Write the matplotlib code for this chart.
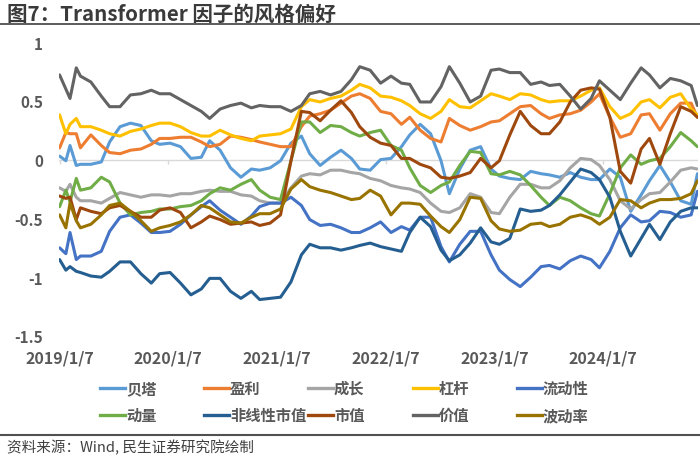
import matplotlib
matplotlib.use("Agg")
import matplotlib.pyplot as plt
from matplotlib.lines import Line2D
import pandas as pd

plt.rcParams["font.family"] = ["Noto Sans CJK SC", "DejaVu Sans"]
plt.rcParams["axes.unicode_minus"] = False

# weekly samples, weeks since 2019/1/7
weeks = [0, 3, 5, 8, 10,
         15, 20, 24, 29, 34, 39, 44, 48, 53, 58,
         63, 68, 72, 77, 82, 87, 92, 96, 101, 106,
         111, 116, 120, 125, 130, 135, 140, 144, 149, 154,
         159, 164, 168, 173, 178, 183, 187, 192, 197, 202,
         207, 211, 216, 221, 226, 231, 235, 240, 245, 250,
         255, 259, 264, 269, 274, 279, 283, 288, 293, 298,
         303, 306]

beta = [0.03, -0.01, 0.12, -0.05, -0.04,
        -0.04, -0.02, 0.15, 0.28, 0.31, 0.29, 0.16, 0.13, 0.14, 0.11,
        0.01, 0.02, 0.16, 0.08, -0.07, -0.15, -0.08, -0.09, -0.07, -0.01,
        0.14, 0.20, 0.05, -0.05, 0.02, 0.08, 0.01, -0.08, -0.09, 0.00,
        0.01, 0.11, 0.21, 0.30, 0.22, -0.01, -0.29, -0.08, 0.08, 0.11,
        -0.08, -0.14, -0.16, -0.17, -0.10, -0.12, -0.13, -0.15, -0.11, -0.15,
        -0.17, -0.17, -0.08, -0.15, -0.44, -0.30, -0.18, -0.05, -0.19, -0.35,
        -0.38, -0.12]
yingli = [0.10, 0.23, 0.22, 0.22, 0.10,
          0.21, 0.12, 0.06, 0.05, 0.08, 0.09, 0.13, 0.18, 0.18, 0.19,
          0.19, 0.15, 0.11, 0.13, 0.20, 0.19, 0.17, 0.15, 0.13, 0.11,
          0.11, 0.28, 0.37, 0.39, 0.42, 0.48, 0.54, 0.56, 0.52, 0.41,
          0.39, 0.30, 0.36, 0.25, 0.18, 0.15, 0.35, 0.29, 0.25, 0.28,
          0.32, 0.33, 0.39, 0.45, 0.46, 0.39, 0.35, 0.38, 0.39, 0.42,
          0.49, 0.56, 0.36, 0.19, 0.22, 0.38, 0.39, 0.25, 0.39, 0.48,
          0.48, 0.36]
chengzhang = [-0.24, -0.27, -0.21, -0.32, -0.35,
              -0.35, -0.37, -0.33, -0.28, -0.30, -0.32, -0.30, -0.30, -0.31, -0.29,
              -0.29, -0.27, -0.26, -0.27, -0.27, -0.30, -0.31, -0.35, -0.37, -0.37,
              -0.24, -0.14, -0.12, -0.13, -0.09, -0.09, -0.11, -0.12, -0.16, -0.18,
              -0.22, -0.24, -0.25, -0.28, -0.37, -0.44, -0.45, -0.41, -0.29, -0.32,
              -0.45, -0.46, -0.32, -0.21, -0.21, -0.24, -0.24, -0.18, -0.07, 0.01,
              0.00, -0.05, -0.17, -0.35, -0.42, -0.34, -0.29, -0.28, -0.19, -0.09,
              -0.07, -0.08]
ganggan = [0.38, 0.22, 0.30, 0.35, 0.28,
           0.28, 0.25, 0.22, 0.20, 0.24, 0.26, 0.29, 0.31, 0.31, 0.28,
           0.23, 0.20, 0.20, 0.25, 0.21, 0.18, 0.16, 0.20, 0.21, 0.22,
           0.26, 0.45, 0.51, 0.49, 0.52, 0.54, 0.59, 0.64, 0.61, 0.54,
           0.53, 0.50, 0.46, 0.39, 0.35, 0.41, 0.51, 0.45, 0.44, 0.50,
           0.56, 0.54, 0.51, 0.56, 0.55, 0.51, 0.49, 0.50, 0.50, 0.54,
           0.59, 0.61, 0.45, 0.35, 0.39, 0.49, 0.51, 0.44, 0.53, 0.56,
           0.43, 0.38]
liudong = [-0.75, -0.80, -0.62, -0.85, -0.82,
           -0.82, -0.78, -0.61, -0.49, -0.47, -0.54, -0.62, -0.62, -0.61, -0.55,
           -0.47, -0.40, -0.35, -0.43, -0.49, -0.55, -0.48, -0.40, -0.37, -0.37,
           -0.32, -0.39, -0.51, -0.56, -0.55, -0.58, -0.62, -0.62, -0.58, -0.53,
           -0.62, -0.57, -0.60, -0.49, -0.49, -0.74, -0.87, -0.72, -0.61, -0.61,
           -0.81, -0.94, -1.02, -1.08, -1.00, -0.91, -0.90, -0.93, -0.86, -0.82,
           -0.85, -0.92, -0.78, -0.58, -0.47, -0.53, -0.52, -0.44, -0.45, -0.49,
           -0.47, -0.27]
dongliang = [-0.40, -0.26, -0.36, -0.16, -0.26,
             -0.24, -0.15, -0.19, -0.37, -0.47, -0.45, -0.44, -0.42, -0.42, -0.40,
             -0.39, -0.35, -0.29, -0.24, -0.26, -0.21, -0.17, -0.26, -0.32, -0.34,
             -0.01, 0.32, 0.32, 0.23, 0.29, 0.28, 0.23, 0.20, 0.23, 0.25,
             0.12, 0.08, -0.07, -0.22, -0.28, -0.22, -0.19, -0.05, 0.07, 0.06,
             -0.12, -0.13, -0.10, -0.13, -0.22, -0.32, -0.39, -0.32, -0.35, -0.41,
             -0.46, -0.48, -0.29, -0.07, 0.04, -0.04, -0.01, 0.01, 0.11, 0.23,
             0.16, 0.11]
feixian = [-0.85, -0.94, -0.91, -0.95, -0.96,
           -0.99, -1.00, -0.95, -0.87, -0.87, -0.97, -1.05, -0.97, -0.96, -1.05,
           -1.15, -1.10, -1.01, -1.01, -1.12, -1.18, -1.12, -1.19, -1.18, -1.17,
           -1.04, -0.81, -0.72, -0.75, -0.75, -0.77, -0.75, -0.73, -0.71, -0.74,
           -0.76, -0.78, -0.62, -0.49, -0.57, -0.77, -0.86, -0.81, -0.71, -0.58,
           -0.70, -0.72, -0.67, -0.42, -0.44, -0.43, -0.39, -0.30, -0.19, -0.08,
           -0.11, -0.17, -0.32, -0.61, -0.82, -0.67, -0.55, -0.68, -0.53, -0.44,
           -0.41, -0.41]
shizhi = [-0.31, -0.33, -0.32, -0.51, -0.41,
          -0.44, -0.46, -0.41, -0.39, -0.44, -0.49, -0.49, -0.43, -0.41, -0.45,
          -0.58, -0.53, -0.48, -0.51, -0.55, -0.54, -0.53, -0.56, -0.54, -0.47,
          -0.01, 0.41, 0.40, 0.33, 0.42, 0.50, 0.40, 0.28, 0.19, 0.14,
          0.12, 0.01, 0.01, -0.04, -0.07, -0.15, -0.16, -0.14, -0.11, 0.01,
          -0.07, -0.01, 0.21, 0.41, 0.29, 0.22, 0.22, 0.32, 0.49, 0.59,
          0.61, 0.60, 0.36, -0.10, -0.20, 0.09, 0.18, -0.04, 0.22, 0.45,
          0.41, 0.36]
jiazhi = [0.72, 0.60, 0.52, 0.78, 0.71,
          0.66, 0.54, 0.45, 0.45, 0.55, 0.56, 0.59, 0.56, 0.56, 0.51,
          0.46, 0.41, 0.35, 0.43, 0.46, 0.48, 0.44, 0.46, 0.45, 0.45,
          0.41, 0.46, 0.56, 0.58, 0.55, 0.58, 0.68, 0.79, 0.76, 0.65,
          0.71, 0.65, 0.64, 0.49, 0.49, 0.62, 0.79, 0.65, 0.49, 0.54,
          0.76, 0.77, 0.74, 0.74, 0.64, 0.66, 0.63, 0.64, 0.54, 0.43,
          0.52, 0.67, 0.59, 0.51, 0.65, 0.78, 0.72, 0.61, 0.69, 0.67,
          0.63, 0.46]
bodong = [-0.47, -0.58, -0.37, -0.52, -0.58,
          -0.55, -0.47, -0.39, -0.37, -0.44, -0.52, -0.61, -0.58, -0.56, -0.53,
          -0.47, -0.39, -0.41, -0.47, -0.53, -0.54, -0.49, -0.46, -0.46, -0.42,
          -0.25, -0.17, -0.23, -0.26, -0.28, -0.31, -0.34, -0.33, -0.26, -0.31,
          -0.47, -0.37, -0.37, -0.38, -0.48, -0.57, -0.62, -0.51, -0.32, -0.33,
          -0.52, -0.59, -0.61, -0.60, -0.55, -0.54, -0.57, -0.55, -0.49, -0.47,
          -0.50, -0.55, -0.49, -0.34, -0.35, -0.41, -0.37, -0.34, -0.34, -0.33,
          -0.29, -0.18]

names = ["贝塔", "盈利", "成长", "杠杆", "流动性", "动量", "非线性市值", "市值", "价值", "波动率"]
values = [beta, yingli, chengzhang, ganggan, liudong, dongliang, feixian, shizhi, jiazhi, bodong]
colors = ["#5B9BD5", "#ED7D31", "#A5A5A5", "#FFC000", "#4472C4",
          "#70AD47", "#255E91", "#9E480E", "#636363", "#997300"]

year_ticks = ["2019-01-07", "2020-01-07", "2021-01-07", "2022-01-07", "2023-01-07", "2024-01-07"]
year_labels = ["2019/1/7", "2020/1/7", "2021/1/7", "2022/1/7", "2023/1/7", "2024/1/7"]
y_ticks = [1, 0.5, 0, -0.5, -1, -1.5]
y_labels = ["1", "0.5", "0", "-0.5", "-1", "-1.5"]

dates = pd.Timestamp("2019-01-07") + pd.to_timedelta([w * 7 for w in weeks], unit="D")
tick_dates = pd.to_datetime(year_ticks)

GREY = "#595959"
W, H = 700, 460
fig = plt.figure(figsize=(7, 4.6), dpi=100)
ax = fig.add_axes([59 / W, 1 - 337 / H, 639 / W, 294 / H])

ax.axhline(0, color="#d9d9d9", lw=1, zorder=0)
ax.vlines(tick_dates, -0.035, 0, color="#d9d9d9", lw=1, zorder=0)
for name, vals, c in zip(names, values, colors):
    ax.plot(dates, vals, color=c, lw=2.2, solid_joinstyle="round", solid_capstyle="round", label=name)

ax.set_ylim(-1.5, 1)
ax.set_xlim(pd.Timestamp("2019-01-05"), pd.Timestamp("2024-11-20"))
ax.set_yticks(y_ticks)
ax.set_yticklabels(y_labels)
ax.set_xticks(tick_dates)
ax.set_xticklabels(year_labels)
ax.tick_params(axis="y", length=0, pad=11.5, labelsize=11, labelcolor=GREY)
ax.tick_params(axis="x", length=0, pad=9.5, labelsize=11.5, labelcolor=GREY)
for lab in ax.get_xticklabels() + ax.get_yticklabels():
    lab.set_fontweight("bold")
for s in ax.spines.values():
    s.set_visible(False)

# legend drawn by hand, Excel-like fixed columns
leg_x = [100, 204, 308, 413, 517]
for i, (name, c) in enumerate(zip(names, colors)):
    x0 = leg_x[i % 5] / W
    y0 = 1 - (389 + 27 * (i // 5)) / H
    fig.add_artist(Line2D([x0, x0 + 25 / W], [y0, y0], color=c, lw=2.4))
    fig.text(x0 + 26 / W, y0, name, ha="left", va="center", fontsize=11, fontweight="bold", color=GREY)

# header / footer
fig.text(7 / W, 1 - 14.5 / H, "图7：Transformer 因子的风格偏好", ha="left", va="center",
         fontsize=14.8, fontweight="bold", color="#3a3a3a")
fig.add_artist(Line2D([0, 1], [1 - 24.5 / H] * 2, color="#404040", lw=1.2))
fig.add_artist(Line2D([0, 1], [1 - 436 / H] * 2, color="#505050", lw=1.5))
fig.text(7 / W, 1 - 448 / H, "资料来源：Wind, 民生证券研究院绘制", ha="left", va="center",
         fontsize=10.5, color="#404040")

fig.savefig("out.png", dpi=100)
